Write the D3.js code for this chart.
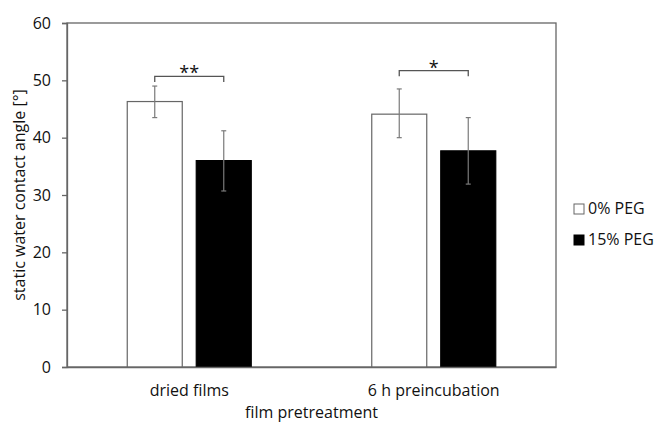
<!DOCTYPE html>
<html>
<head>
<meta charset="utf-8">
<script src="https://cdn.jsdelivr.net/npm/d3@7"></script>
<style>
  body { margin: 0; background: #fff; }
  text { font-family: "Open Sans", Lato, sans-serif; fill: #111; }
</style>
</head>
<body>
<div id="chart"></div>
<script>
// data
const categories = ["dried films", "6 h preincubation"];
const series = ["0% PEG", "15% PEG"];
const means = [[46.3, 36.0], [44.1, 37.7]];
const errLow = [[43.5, 30.7], [40.0, 31.9]];
const errHigh = [[49.0, 41.2], [48.5, 43.5]];
const sigLabels = ["**", "*"];
const sigLevel = [50.7, 51.7];
const yTicks = [0, 10, 20, 30, 40, 50, 60];

const width = 655, height = 423;
const margin = { top: 23, right: 99, bottom: 56, left: 67 };
const fills = ["#ffffff", "#000000"];
const font = "'Open Sans', Lato, sans-serif";
const fs = 16;

const svg = d3.select("#chart").append("svg")
    .attr("width", width).attr("height", height);

const x = d3.scaleBand().domain(categories)
    .range([margin.left, width - margin.right]);
const y = d3.scaleLinear().domain([0, 60])
    .range([height - margin.bottom, margin.top]);

const barW = 55, gap = 14;
const barX = (ci, si) => x(categories[ci]) + x.bandwidth() / 2 + (si === 0 ? -gap / 2 - barW : gap / 2);

// frame (top / right)
svg.append("rect")
    .attr("x", margin.left).attr("y", margin.top)
    .attr("width", width - margin.right - margin.left)
    .attr("height", y(0) - margin.top)
    .attr("fill", "none").attr("stroke", "#666").attr("stroke-width", 1.3);

// bars
categories.forEach((c, ci) => {
  series.forEach((s, si) => {
    svg.append("rect")
        .attr("x", barX(ci, si)).attr("y", y(means[ci][si]))
        .attr("width", barW).attr("height", y(0) - y(means[ci][si]))
        .attr("fill", fills[si])
        .attr("stroke", si === 0 ? "#666" : "#000").attr("stroke-width", 1.2);
  });
});

// error bars
categories.forEach((c, ci) => {
  series.forEach((s, si) => {
    const cx = barX(ci, si) + barW / 2;
    const g = svg.append("g").attr("stroke", "#7a7a7a").attr("stroke-width", 1.2);
    g.append("line").attr("x1", cx).attr("x2", cx)
        .attr("y1", y(errLow[ci][si])).attr("y2", y(errHigh[ci][si]));
    [errLow[ci][si], errHigh[ci][si]].forEach(v => {
      g.append("line").attr("x1", cx - 2.5).attr("x2", cx + 2.5)
          .attr("y1", y(v)).attr("y2", y(v));
    });
  });
});

// significance brackets
categories.forEach((c, ci) => {
  const x1 = barX(ci, 0) + barW / 2, x2 = barX(ci, 1) + barW / 2;
  const top = y(sigLevel[ci]), drop = y(sigLevel[ci] - 1);
  svg.append("path")
      .attr("d", `M${x1},${drop}V${top}H${x2}V${drop}`)
      .attr("fill", "none").attr("stroke", "#555").attr("stroke-width", 1.3);
  svg.append("text")
      .attr("x", (x1 + x2) / 2).attr("y", top + 3)
      .attr("text-anchor", "middle").attr("font-size", 18)
      .text(sigLabels[ci]);
});

// y axis
const yAxis = svg.append("g")
    .attr("transform", `translate(${margin.left},0)`)
    .call(d3.axisLeft(y).tickValues(yTicks).tickSize(5).tickPadding(11));
yAxis.select(".domain").attr("stroke", "#666").attr("stroke-width", 1.3);
yAxis.selectAll(".tick line").attr("stroke", "#666").attr("stroke-width", 1.3);
yAxis.selectAll(".tick text").attr("font-size", fs).attr("font-family", font).attr("fill", "#111");

// x axis
const xAxis = svg.append("g")
    .attr("transform", `translate(0,${y(0)})`)
    .call(d3.axisBottom(x).tickSize(0).tickPadding(18));
xAxis.select(".domain").attr("stroke", "#666").attr("stroke-width", 1.3);
xAxis.selectAll(".tick text").attr("font-size", fs).attr("font-family", font).attr("fill", "#111");

// axis titles
svg.append("text")
    .attr("x", (margin.left + width - margin.right) / 2).attr("y", 418)
    .attr("text-anchor", "middle").attr("font-size", fs)
    .text("film pretreatment");
svg.append("text")
    .attr("transform", `translate(25,${(margin.top + y(0)) / 2}) rotate(-90)`)
    .attr("text-anchor", "middle").attr("font-size", fs)
    .text("static water contact angle [°]");

// legend
const legend = svg.append("g").attr("transform", "translate(574,204)");
series.forEach((s, si) => {
  const row = legend.append("g").attr("transform", `translate(0,${si * 31})`);
  row.append("rect").attr("width", 10).attr("height", 10)
      .attr("fill", fills[si]).attr("stroke", si === 0 ? "#666" : "#000");
  row.append("text").attr("x", 14).attr("y", 10).attr("font-size", fs).text(s);
});
</script>
</body>
</html>
